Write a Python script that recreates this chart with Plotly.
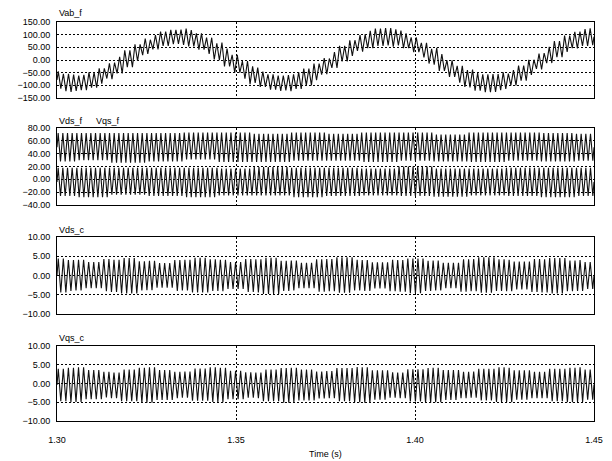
import numpy as np
import plotly.graph_objects as go

T_START, T_END = 1.30, 1.45
time_ticks = [1.30, 1.35, 1.40, 1.45]

# ---- values ----
# Vab_f : slow component (every 2.5 ms) and ripple half-amplitude (every 10 ms)
vab_mid = [-79, -89, -92, -89, -79, -63, -43, -20, 5, 29, 52, 70, 84, 91, 92, 86,
           73, 56, 34, 10, -15, -39, -60, -76, -87, -92, -90, -81, -67, -47, -25,
           0, 25, 47, 67, 81, 90, 92, 87, 76, 60, 39, 15, -10, -34, -56, -73, -86,
           -92, -91, -84, -70, -52, -29, -5, 20, 43, 64, 79, 89, 92]
vab_rip = [34, 30, 33, 28, 32, 35, 30, 33, 31, 34, 29, 33, 35, 30, 32, 33]
vab_cycles = 105

# Vds_f / Vqs_f : mean level and ripple half-amplitude (every 10 ms)
vdsf_mid = [50, 51, 49, 50, 52, 50, 49, 51, 50, 50, 51, 49, 50, 51, 50, 50]
vdsf_rip = [22, 21, 23, 22, 21, 23, 22, 22, 21, 23, 22, 21, 23, 22, 22, 21]
vdsf_cycles = 115
vqsf_mid = [-4, -5, -3, -4, -5, -4, -3, -5, -4, -4, -3, -5, -4, -4, -5, -4]
vqsf_rip = [22, 23, 21, 22, 23, 21, 22, 23, 22, 21, 23, 22, 21, 22, 23, 22]
vqsf_cycles = 115

# Vds_c / Vqs_c : mean level (every 10 ms) and ripple half-amplitude (every 5 ms)
vdsc_mid = [0.0, 0.1, -0.1, 0.0, 0.1, 0.0, -0.1, 0.0, 0.1, 0.0, -0.1, 0.0, 0.1, 0.0, -0.1, 0.0]
vdsc_rip = [4.4, 4.0, 3.4, 4.2, 4.6, 3.8, 3.2, 4.0, 4.5, 4.1, 3.5, 4.3, 4.7, 3.9, 3.3, 4.2,
            4.6, 4.0, 3.4, 4.1, 4.5, 3.9, 3.3, 4.2, 4.6, 4.1, 3.6, 4.3, 4.6, 4.0, 3.5]
vdsc_cycles = 106
vqsc_mid = [-0.4, -0.3, -0.5, -0.4, -0.3, -0.4, -0.5, -0.4, -0.3, -0.4, -0.5, -0.4, -0.3, -0.4, -0.4, -0.3]
vqsc_rip = [4.3, 4.6, 3.9, 3.4, 4.2, 4.7, 4.0, 3.5, 4.3, 4.6, 3.8, 3.4, 4.2, 4.6, 4.1, 3.6,
            4.4, 4.7, 3.9, 3.4, 4.3, 4.6, 4.0, 3.5, 4.2, 4.6, 3.9, 3.5, 4.3, 4.6, 4.0]
vqsc_cycles = 106

panel_ranges = [[-150, 150], [-40, 80], [-10, 10], [-10, 10]]
panel_dticks = [50, 20, 5, 5]
panel_domains = [[0.8095, 1.0], [0.5414, 0.7343], [0.2682, 0.4612], [0.0, 0.188]]


def wave(mid, rip, cycles):
    """Zig-zag through the ripple peaks/troughs, using the nearest reading."""
    mid = np.asarray(mid, float)
    rip = np.asarray(rip, float)
    n = 2 * cycles
    span = T_END - T_START
    t = T_START + (np.arange(n) + 0.5) * span / n
    frac = (t - T_START) / span
    mi = np.rint(frac * (len(mid) - 1)).astype(int)
    ri = np.rint(frac * (len(rip) - 1)).astype(int)
    sign = np.where(np.arange(n) % 2 == 0, 1.0, -1.0)
    y = mid[mi] + sign * rip[ri]
    t = np.concatenate([[T_START], t, [T_END]])
    y = np.concatenate([[mid[0]], y, [mid[-1]]])
    return t, y


FONT = "Arial, Liberation Sans, sans-serif"
LINE = dict(color="#111111", width=1.1)
GRID_DASH = "2px,2px"

fig = go.Figure()
series = [
    (1, vab_mid, vab_rip, vab_cycles),
    (2, vdsf_mid, vdsf_rip, vdsf_cycles),
    (2, vqsf_mid, vqsf_rip, vqsf_cycles),
    (3, vdsc_mid, vdsc_rip, vdsc_cycles),
    (4, vqsc_mid, vqsc_rip, vqsc_cycles),
]
for row, m, r, c in series:
    t, y = wave(m, r, c)
    sfx = "" if row == 1 else str(row)
    fig.add_trace(go.Scatter(x=t, y=y, mode="lines", line=LINE,
                             xaxis="x" + sfx, yaxis="y" + sfx,
                             showlegend=False, hoverinfo="skip"))

# page has an 8px body margin, so the figure is 8px smaller each way
layout = dict(
    width=604, height=453,
    margin=dict(l=33, r=9, t=14, b=40),
    paper_bgcolor="white", plot_bgcolor="white",
    font=dict(family=FONT, size=9, color="black"),
    showlegend=False,
)
for i in range(4):
    sfx = "" if i == 0 else str(i + 1)
    layout["xaxis" + sfx] = dict(
        domain=[0, 1], range=[T_START, T_END], anchor="y" + sfx,
        tickvals=time_ticks, ticktext=[f"{v:.2f}" for v in time_ticks],
        showticklabels=(i == 3), ticks="", ticklabelstandoff=10,
        showgrid=True, gridcolor="black", griddash=GRID_DASH, gridwidth=1,
        zeroline=False, showline=True, mirror=True, linecolor="black", linewidth=1,
    )
    lo, hi = panel_ranges[i]
    layout["yaxis" + sfx] = dict(
        domain=panel_domains[i], range=[lo, hi], anchor="x" + sfx,
        tickmode="linear", tick0=lo, dtick=panel_dticks[i], tickformat=".2f",
        ticks="", ticklabelstandoff=4,
        showgrid=True, gridcolor="black", griddash=GRID_DASH, gridwidth=1,
        zeroline=False, showline=True, mirror=True, linecolor="black", linewidth=1,
    )

fig.update_layout(**layout)

titles = [("Vab_f", 0.0, 1.0226), ("Vds_f", 0.0, 0.7526), ("Vqs_f", 0.069, 0.7526),
          ("Vds_c", 0.0, 0.4787), ("Vqs_c", 0.0, 0.2073)]
for txt, x, y in titles:
    fig.add_annotation(text=txt, x=x, y=y, xref="paper", yref="paper",
                       xanchor="left", yanchor="middle", showarrow=False,
                       font=dict(family=FONT, size=9, color="black"))
fig.add_annotation(text="Time (s)", x=0.5, y=-0.0827, xref="paper", yref="paper",
                   xanchor="center", yanchor="middle", showarrow=False,
                   font=dict(family=FONT, size=9, color="black"))

fig.write_html("out.html")
